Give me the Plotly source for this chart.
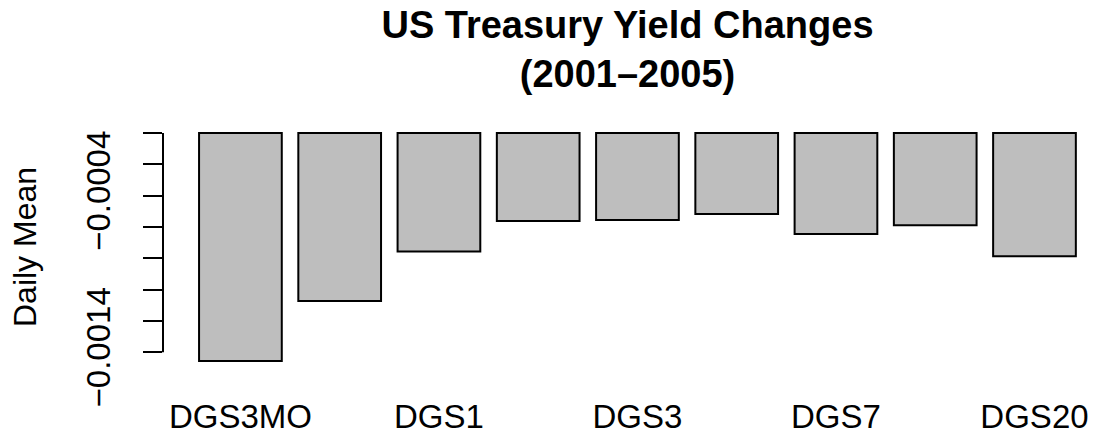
import plotly.graph_objects as go

# ---- data ----
categories = ["DGS3MO", "DGS6MO", "DGS1", "DGS2", "DGS3", "DGS5", "DGS7", "DGS10", "DGS20"]
daily_mean = [-0.001455, -0.001072, -0.000757, -0.000561, -0.000555, -0.000517, -0.000644, -0.000589, -0.000787]

ytick_vals = [0.0, -0.0002, -0.0004, -0.0006, -0.0008, -0.0010, -0.0012, -0.0014]
ytick_text = ["", "", "\u22120.0004", "", "", "", "", "\u22120.0014"]
xtick_shown = ["DGS3MO", "DGS1", "DGS3", "DGS7", "DGS20"]

title_text = "US Treasury Yield Changes<br>(2001\u20132005)"
ylabel = "Daily Mean"

FONT = "Liberation Sans, Arial, Helvetica, sans-serif"

# y range like R's barplot (4% extension)
ymin = min(min(daily_mean), 0.0)
ymax = max(max(daily_mean), 0.0)
ext = 0.04 * (ymax - ymin)

fig = go.Figure()
fig.add_trace(go.Bar(
    x=categories,
    y=daily_mean,
    marker=dict(color="#BEBEBE", line=dict(color="black", width=2)),
    hoverinfo="x+y",
))

fig.update_layout(
    width=1099, height=438,
    margin=dict(l=163, r=0, t=124, b=68),
    paper_bgcolor="white", plot_bgcolor="white",
    bargap=1 - 1 / 1.2,
    showlegend=False,
    font=dict(family=FONT, color="black", size=33),
    title=dict(
        text=title_text,
        font=dict(family=FONT, size=38, color="black", weight="bold"),
        x=627.5 / 1099, xanchor="center", xref="container",
        y=1 - 38 / 438, yanchor="top", yref="container",
    ),
    xaxis=dict(
        range=[-0.78, 8.65],
        automargin=False,
        showgrid=False, zeroline=False, showline=False,
        ticks="", tickvals=xtick_shown, ticktext=xtick_shown,
        tickfont=dict(family=FONT, size=33, color="black"),
        ticklabelstandoff=24,
    ),
    yaxis=dict(
        range=[ymin - ext, ymax + ext],
        automargin=False,
        showgrid=False, zeroline=False, showline=False,
        ticks="outside", ticklen=19, tickwidth=2, tickcolor="black",
        tickvals=ytick_vals, ticktext=ytick_text,
        tickangle=-90,
        tickfont=dict(family=FONT, size=33, color="black"),
        ticklabelstandoff=20,
    ),
    shapes=[dict(
        type="line", xref="paper", yref="y",
        x0=0, x1=0, y0=max(ytick_vals), y1=min(ytick_vals),
        line=dict(color="black", width=2),
    )],
    annotations=[dict(
        text=ylabel, textangle=-90,
        xref="paper", yref="paper",
        x=(25 - 163) / 936, y=0.5,
        xanchor="center", yanchor="middle",
        showarrow=False,
        font=dict(family=FONT, size=32, color="black"),
    )],
)

fig.write_html(
    "out.html",
    config={"displayModeBar": False},
    post_script="document.body.style.margin='0';",
)
